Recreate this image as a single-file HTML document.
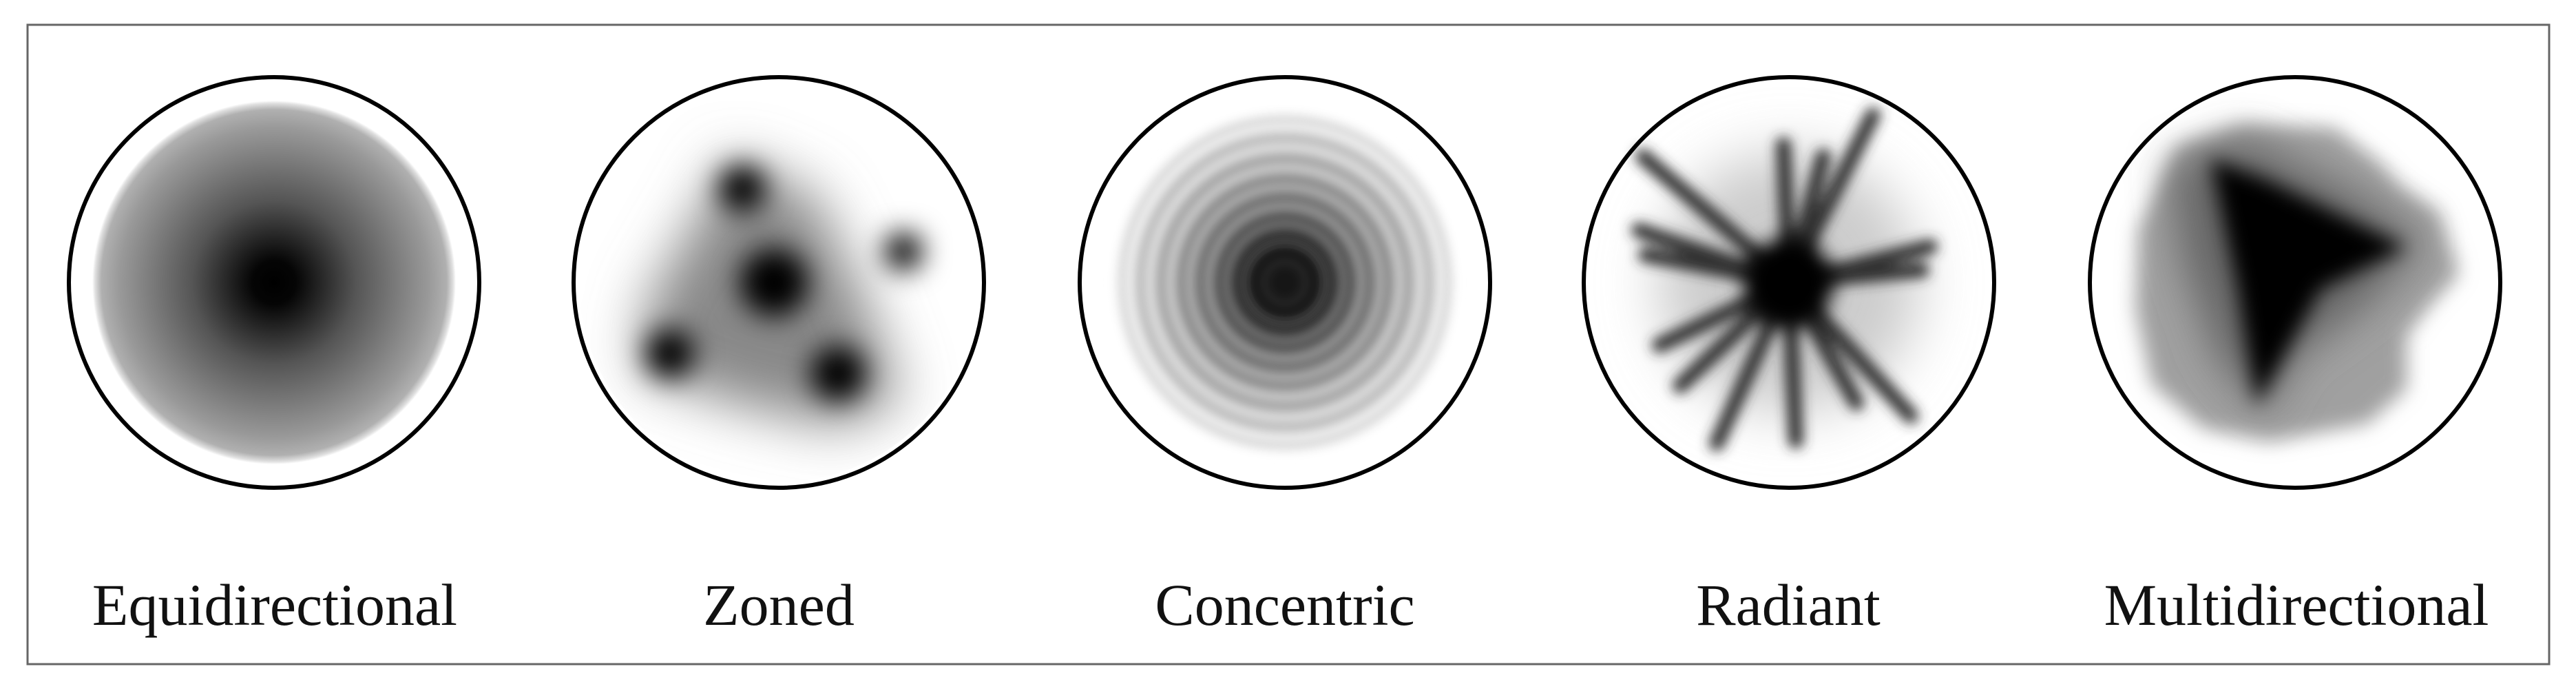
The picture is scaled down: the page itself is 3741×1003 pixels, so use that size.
<!DOCTYPE html>
<html><head><meta charset="utf-8"><style>
html,body{margin:0;padding:0;background:#fff;width:3741px;height:1003px;overflow:hidden}
svg{display:block}
</style></head><body>
<svg width="3741" height="1003" viewBox="0 0 3741 1003" xmlns="http://www.w3.org/2000/svg">
<defs>
<radialGradient id="g1" cx="398" cy="410" r="264" gradientUnits="userSpaceOnUse">
<stop offset="0" stop-color="#000"/><stop offset="0.12" stop-color="#050505"/><stop offset="0.45" stop-color="#555"/><stop offset="0.85" stop-color="#999"/><stop offset="0.95" stop-color="#b0b0b0"/><stop offset="0.985" stop-color="#e0e0e0"/><stop offset="1" stop-color="#fff"/>
</radialGradient>
<radialGradient id="g3" cx="1866" cy="410" r="248" gradientUnits="userSpaceOnUse">
<stop offset="0" stop-color="#111"/><stop offset="0.2" stop-color="#151515"/><stop offset="0.45" stop-color="#666"/><stop offset="0.75" stop-color="#aaa"/><stop offset="0.95" stop-color="#d0d0d0"/><stop offset="1" stop-color="#fff"/>
</radialGradient>
<clipPath id="c2"><circle cx="1131" cy="410" r="290"/></clipPath>
<filter id="b1" filterUnits="userSpaceOnUse" x="0" y="0" width="3741" height="1003"><feGaussianBlur stdDeviation="7"/></filter>
<filter id="b2" filterUnits="userSpaceOnUse" x="0" y="0" width="3741" height="1003"><feGaussianBlur stdDeviation="20"/></filter>
<filter id="b3" filterUnits="userSpaceOnUse" x="0" y="0" width="3741" height="1003"><feGaussianBlur stdDeviation="9"/></filter>
<filter id="b4" filterUnits="userSpaceOnUse" x="0" y="0" width="3741" height="1003"><feGaussianBlur stdDeviation="40"/></filter>
<filter id="b5" filterUnits="userSpaceOnUse" x="0" y="0" width="3741" height="1003"><feGaussianBlur stdDeviation="14"/></filter>
<filter id="b6" filterUnits="userSpaceOnUse" x="0" y="0" width="3741" height="1003"><feGaussianBlur stdDeviation="30"/></filter>
</defs>
<rect x="40" y="36" width="3662" height="928" fill="#fff" stroke="#666" stroke-width="3"/>

<!-- Equidirectional -->
<circle cx="398" cy="410" r="264" fill="url(#g1)"/>
<circle cx="398" cy="410" r="298" fill="none" stroke="#000" stroke-width="6"/>

<!-- Zoned -->
<g clip-path="url(#c2)">
<path d="M1060 230 L1180 280 L1250 420 L1310 580 L1220 620 L1080 590 L930 540 L940 440 L1010 320 Z" fill="#888" filter="url(#b4)"/>
<circle cx="1078" cy="274" r="34" fill="#000" filter="url(#b2)"/>
<circle cx="1124" cy="410" r="50" fill="#000" filter="url(#b2)"/>
<circle cx="1312" cy="365" r="28" fill="#000" filter="url(#b2)"/>
<circle cx="973" cy="513" r="36" fill="#000" filter="url(#b2)"/>
<circle cx="1217" cy="542" r="40" fill="#000" filter="url(#b2)"/>
</g>
<circle cx="1131" cy="410" r="298" fill="none" stroke="#000" stroke-width="6"/>

<!-- Concentric -->
<circle cx="1866" cy="410" r="248" fill="url(#g3)" filter="url(#b1)"/>
<g fill="none" stroke="#fff" filter="url(#b1)">
<circle cx="1866" cy="410" r="226" stroke-width="14" stroke-opacity="0.75"/>
<circle cx="1866" cy="410" r="196" stroke-width="14" stroke-opacity="0.6"/>
<circle cx="1866" cy="410" r="166" stroke-width="14" stroke-opacity="0.5"/>
<circle cx="1866" cy="410" r="138" stroke-width="12" stroke-opacity="0.4"/>
<circle cx="1866" cy="410" r="110" stroke-width="12" stroke-opacity="0.35"/>
<circle cx="1866" cy="410" r="84" stroke-width="10" stroke-opacity="0.3"/>
<circle cx="1866" cy="410" r="58" stroke-width="10" stroke-opacity="0.2"/>
<circle cx="1866" cy="410" r="30" stroke-width="8" stroke-opacity="0.1"/>
</g>
<circle cx="1866" cy="410" r="298" fill="none" stroke="#000" stroke-width="6"/>

<!-- Radiant -->
<circle cx="2598" cy="410" r="190" fill="#ccc" filter="url(#b4)"/>
<g stroke="#333" stroke-width="22" stroke-linecap="round" filter="url(#b3)">
<line x1="2598" y1="410" x2="2386" y2="227"/>
<line x1="2598" y1="410" x2="2720" y2="167"/>
<line x1="2598" y1="410" x2="2648" y2="227"/>
<line x1="2598" y1="410" x2="2590" y2="210"/>
<line x1="2598" y1="410" x2="2803" y2="358"/>
<line x1="2598" y1="410" x2="2791" y2="392"/>
<line x1="2598" y1="410" x2="2410" y2="501"/>
<line x1="2598" y1="410" x2="2493" y2="644"/>
<line x1="2598" y1="410" x2="2608" y2="640"/>
<line x1="2598" y1="410" x2="2775" y2="604"/>
<line x1="2598" y1="410" x2="2696" y2="585"/>
<line x1="2598" y1="410" x2="2380" y2="334"/>
<line x1="2598" y1="410" x2="2390" y2="370"/>
<line x1="2598" y1="410" x2="2440" y2="560"/>
</g>
<circle cx="2598" cy="410" r="65" fill="#000" filter="url(#b5)"/>
<circle cx="2598" cy="410" r="298" fill="none" stroke="#000" stroke-width="6"/>

<!-- Multidirectional -->
<path d="M3105 333 L3162 212 L3258 180 L3391 186 L3457 237 L3486 269 L3543 308 L3571 397 L3524 449 L3495 487 L3495 564 L3438 615 L3296 641 L3200 622 L3125 558 L3101 449 Z" fill="#a0a0a0" filter="url(#b5)"/>
<path d="M3150 240 L3260 200 L3420 280 L3520 350 L3440 440 L3330 520 L3290 600 L3220 520 L3170 380 Z" fill="#666" filter="url(#b6)"/>
<path d="M3210 230 L3290 260 L3495 359 L3370 420 L3277 590 L3250 420 Z" fill="#000" filter="url(#b5)"/>
<circle cx="3333" cy="410" r="298" fill="none" stroke="#000" stroke-width="6"/>

<g font-family="'Liberation Serif', serif" font-size="86" fill="#111" text-anchor="middle">
<text x="399" y="907">Equidirectional</text>
<text x="1131" y="907">Zoned</text>
<text x="1866" y="907">Concentric</text>
<text x="2597" y="907">Radiant</text>
<text x="3335" y="907">Multidirectional</text>
</g>
</svg>
</body></html>
